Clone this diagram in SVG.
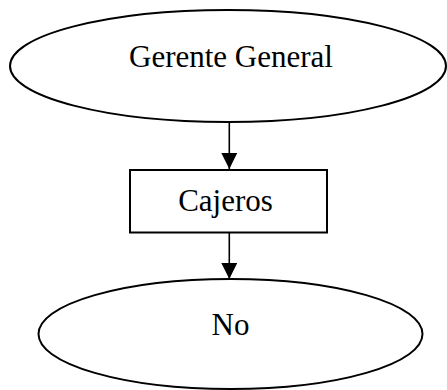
<svg xmlns="http://www.w3.org/2000/svg" width="447" height="390" viewBox="0 0 447 390">
  <style>
    .shape { fill: #ffffff; stroke: #000000; stroke-width: 2; }
    .label { font-family: "Liberation Serif", "Times New Roman", serif; font-size: 31px; fill: #000000; text-anchor: middle; }
    .edge { stroke: #000000; stroke-width: 1.6; fill: none; }
  </style>
  <defs>
    <marker id="arrow" markerUnits="userSpaceOnUse" markerWidth="16" markerHeight="17" refX="16" refY="8" orient="auto">
      <path d="M0,0 L16,8 L0,16 Z" fill="#000000"/>
    </marker>
  </defs>
  <rect width="447" height="390" fill="#ffffff"/>

  <g id="connectors">
    <line class="edge" x1="229.3" y1="122" x2="229.3" y2="169" marker-end="url(#arrow)"/>
    <line class="edge" x1="229.3" y1="233" x2="229.3" y2="279" marker-end="url(#arrow)"/>
  </g>

  <g id="gerente-general">
    <ellipse class="shape" cx="228" cy="66" rx="218" ry="56"/>
    <text class="label" x="231" y="67">Gerente General</text>
  </g>

  <g id="cajeros">
    <rect class="shape" x="130" y="170" width="197" height="62.5"/>
    <text class="label" x="225.5" y="211">Cajeros</text>
  </g>

  <g id="no">
    <ellipse class="shape" cx="230.5" cy="334" rx="192" ry="55"/>
    <text class="label" x="230.5" y="335">No</text>
  </g>
</svg>
